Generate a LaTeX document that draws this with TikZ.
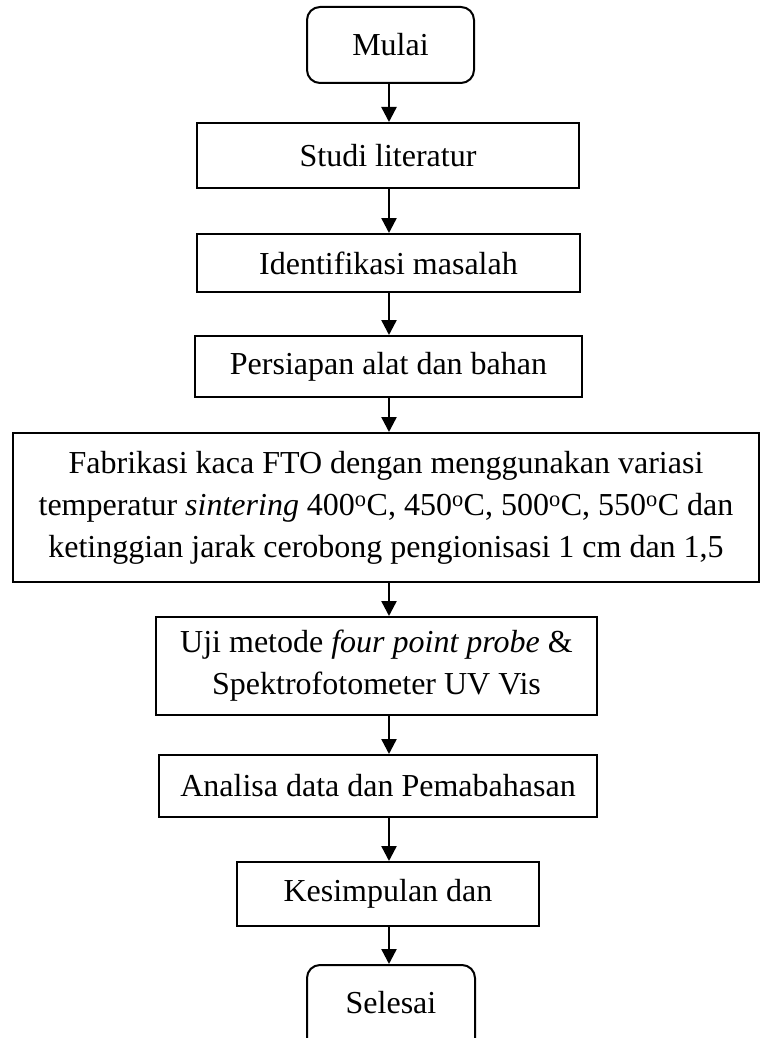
\documentclass[tikz,border=0pt]{standalone}
\usepackage{fontspec}
\setmainfont{Liberation Serif}
\usetikzlibrary{arrows.meta}
\begin{document}
\begin{tikzpicture}[x=1pt,y=-1pt,
  box/.style={draw,line width=2pt,inner sep=0pt,align=center,font=\fontsize{32}{42}\selectfont},
  term/.style={box,rounded corners=13pt},
  arr/.style={line width=2.4pt,-{Triangle[length=15pt,width=15pt]}}]
\useasboundingbox (0,0) rectangle (760,1038);
\node[term,minimum width=167pt,minimum height=76pt] (mulai) at (390.5,45) {Mulai};
\node[box,minimum width=382pt,minimum height=65pt] (studi) at (388,155.5) {Studi literatur};
\node[box,minimum width=383pt,minimum height=58pt] (ident) at (388.5,263) {Identifikasi masalah};
\node[box,minimum width=387pt,minimum height=61pt] (pers) at (388.5,366.5) {Persiapan alat dan bahan};
\node[box,minimum width=746pt,minimum height=149pt] (fab) at (386,507.5) {Fabrikasi kaca FTO dengan menggunakan variasi\\temperatur \textit{sintering} 400\textsuperscript{o}C, 450\textsuperscript{o}C, 500\textsuperscript{o}C, 550\textsuperscript{o}C dan\\ketinggian jarak cerobong pengionisasi 1 cm dan 1,5};
\node[box,minimum width=441pt,minimum height=98pt] (uji) at (376.5,666) {Uji metode \textit{four point probe} \&\\Spektrofotometer UV Vis};
\node[box,minimum width=438pt,minimum height=62pt] (anal) at (378,786) {Analisa data dan Pemabahasan};
\node[box,minimum width=302pt,minimum height=64pt] (kes) at (388,894) {Kesimpulan dan};
\node[term,minimum width=168pt,minimum height=110pt,text depth=0pt] (sel) at (391,1020) {};
\node[font=\fontsize{32}{42}\selectfont,inner sep=0pt] (seltext) at (391,1003) {Selesai};
\coordinate (ax) at (389,0);
\draw[arr] (mulai.south -| ax) -- (studi.north -| ax);
\draw[arr] (studi.south -| ax) -- (ident.north -| ax);
\draw[arr] (ident.south -| ax) -- (pers.north -| ax);
\draw[arr] (pers.south -| ax) -- (fab.north -| ax);
\draw[arr] (fab.south -| ax) -- (uji.north -| ax);
\draw[arr] (uji.south -| ax) -- (anal.north -| ax);
\draw[arr] (anal.south -| ax) -- (kes.north -| ax);
\draw[arr] (kes.south -| ax) -- (sel.north -| ax);
\end{tikzpicture}
\end{document}
